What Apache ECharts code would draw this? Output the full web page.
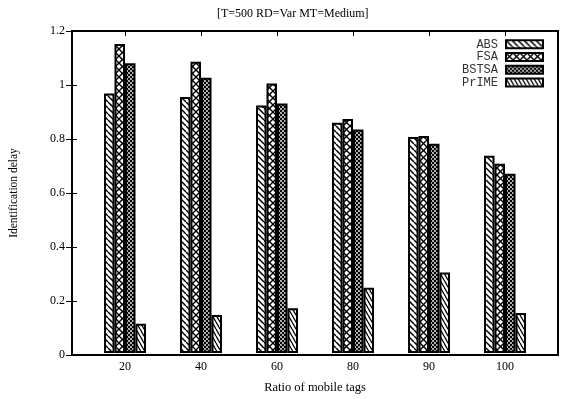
<!DOCTYPE html>
<html><head><meta charset="utf-8">
<script src="https://cdn.jsdelivr.net/npm/echarts@6/dist/echarts.min.js"></script>
<style>html,body{margin:0;padding:0;background:#fff}#c{width:561px;height:399px}</style>
</head><body><div id="c"></div>
<script>
var categories = ['20', '40', '60', '80', '90', '100'];
var seriesNames = ['ABS', 'FSA', 'BSTSA', 'PrIME'];
var abs   = [0.967, 0.954, 0.922, 0.858, 0.805, 0.735];
var fsa   = [1.152, 1.085, 1.004, 0.872, 0.809, 0.705];
var bstsa = [1.080, 1.026, 0.930, 0.833, 0.780, 0.668];
var prime = [0.109, 0.142, 0.167, 0.243, 0.300, 0.149];
var yTicks = [0, 0.2, 0.4, 0.6, 0.8, 1, 1.2];

function tile(w, h, draw) {
  var c = document.createElement('canvas');
  c.width = w; c.height = h;
  var g = c.getContext('2d');
  g.fillStyle = '#fff'; g.fillRect(0, 0, w, h);
  draw(g, w, h);
  return { image: c, repeat: 'repeat' };
}
function diag(g, w, h, dir) {
  g.beginPath();
  for (var k = -1; k <= 1; k++) {
    if (dir > 0) { g.moveTo(k * w, 0); g.lineTo(k * w + w, h); }
    else { g.moveTo(k * w + w, 0); g.lineTo(k * w, h); }
  }
  g.stroke();
}
var patABS = tile(6, 6, function (g, w, h) { g.strokeStyle = '#000'; g.lineWidth = 1.5; diag(g, w, h, 1); });
var patFSA = tile(7, 7, function (g, w, h) { g.strokeStyle = '#000'; g.lineWidth = 1.4; diag(g, w, h, 1); diag(g, w, h, -1); });
var patBST = tile(4, 4, function (g, w, h) {
  g.fillStyle = '#000'; g.fillRect(0, 0, w, h);
  g.fillStyle = '#fff';
  g.beginPath(); g.arc(1, 1, 0.9, 0, Math.PI * 2); g.fill();
  g.beginPath(); g.arc(3, 3, 0.9, 0, Math.PI * 2); g.fill();
});
var patPR = tile(4, 7, function (g, w, h) { g.strokeStyle = '#000'; g.lineWidth = 1.3; diag(g, w, h, 1); });
var pats = [patABS, patFSA, patBST, patPR];
var datas = [abs, fsa, bstsa, prime];

var serif = 'Liberation Serif';
var chart = echarts.init(document.getElementById('c'), null, { renderer: 'canvas' });
var series = seriesNames.map(function (n, i) {
  return {
    name: n, type: 'bar', xAxisIndex: 2, yAxisIndex: 2,
    data: datas[i], barWidth: 10.5, barGap: '0%',
    itemStyle: { color: pats[i], borderColor: '#000', borderWidth: 2 },
    emphasis: { disabled: true }, animation: false
  };
});
chart.setOption({
  animation: false,
  title: {
    text: '[T=500 RD=Var MT=Medium]', left: 212, top: 3,
    textStyle: { fontFamily: serif, fontSize: 12, fontWeight: 'normal', color: '#000' }
  },
  legend: {
    data: seriesNames, orient: 'vertical', right: 12, top: 33, align: 'right',
    itemWidth: 37, itemHeight: 8, itemGap: 0,
    itemStyle: { borderColor: '#000', borderWidth: 2 },
    textStyle: { fontFamily: 'Liberation Mono', fontSize: 12, lineHeight: 12.7, color: '#333', padding: [0, 3, 0, 0] },
    icon: 'rect', selectedMode: false
  },
  grid: [
    { left: 71, right: 3, top: 31, bottom: 44, show: true, borderColor: '#000', borderWidth: 2, backgroundColor: 'transparent' },
    { left: 71, right: 3, top: 31, bottom: 44 },
    { left: 87, right: 18, top: 31, bottom: 44 }
  ],
  xAxis: [
    { type: 'value', gridIndex: 0, min: 0, max: 1, show: false },
    { type: 'value', gridIndex: 1, min: 0, max: 1, show: false },
    { type: 'category', gridIndex: 2, data: categories, position: 'bottom',
      axisLine: { show: false },
      axisTick: { show: true, inside: true, alignWithLabel: true, length: 5, lineStyle: { color: '#000', width: 1 } },
      axisLabel: { fontFamily: serif, fontSize: 12, color: '#000', margin: 8 },
      name: 'Ratio of mobile tags', nameLocation: 'middle', nameGap: 28,
      nameTextStyle: { fontFamily: serif, fontSize: 12.5, color: '#000' } },
    { type: 'category', gridIndex: 2, data: categories, position: 'top',
      axisLine: { show: false },
      axisTick: { show: true, inside: true, alignWithLabel: true, length: 5, lineStyle: { color: '#000', width: 1 } },
      axisLabel: { show: false } }
  ],
  yAxis: [
    { type: 'value', gridIndex: 0, min: 0, max: 1.2, interval: 0.2, position: 'left',
      axisLine: { show: false },
      axisTick: { show: true, inside: true, length: 5, lineStyle: { color: '#000' } },
      axisLabel: { fontFamily: serif, fontSize: 12, color: '#000', margin: 7,
        customValues: yTicks, formatter: function (v) { return String(+v.toFixed(1)); } },
      splitLine: { show: false },
      name: 'Identification delay', nameLocation: 'middle', nameGap: 52, nameRotate: 90,
      nameTextStyle: { fontFamily: serif, fontSize: 11.5, color: '#000' } },
    { type: 'value', gridIndex: 1, min: 0, max: 1.2, interval: 0.2, position: 'right',
      axisLine: { show: false },
      axisTick: { show: true, inside: true, length: 5, lineStyle: { color: '#000' } },
      axisLabel: { show: false }, splitLine: { show: false } },
    { type: 'value', gridIndex: 2, min: 0, max: 1.2, interval: 0.2, show: false, splitLine: { show: false } }
  ],
  series: series
});
</script></body></html>
